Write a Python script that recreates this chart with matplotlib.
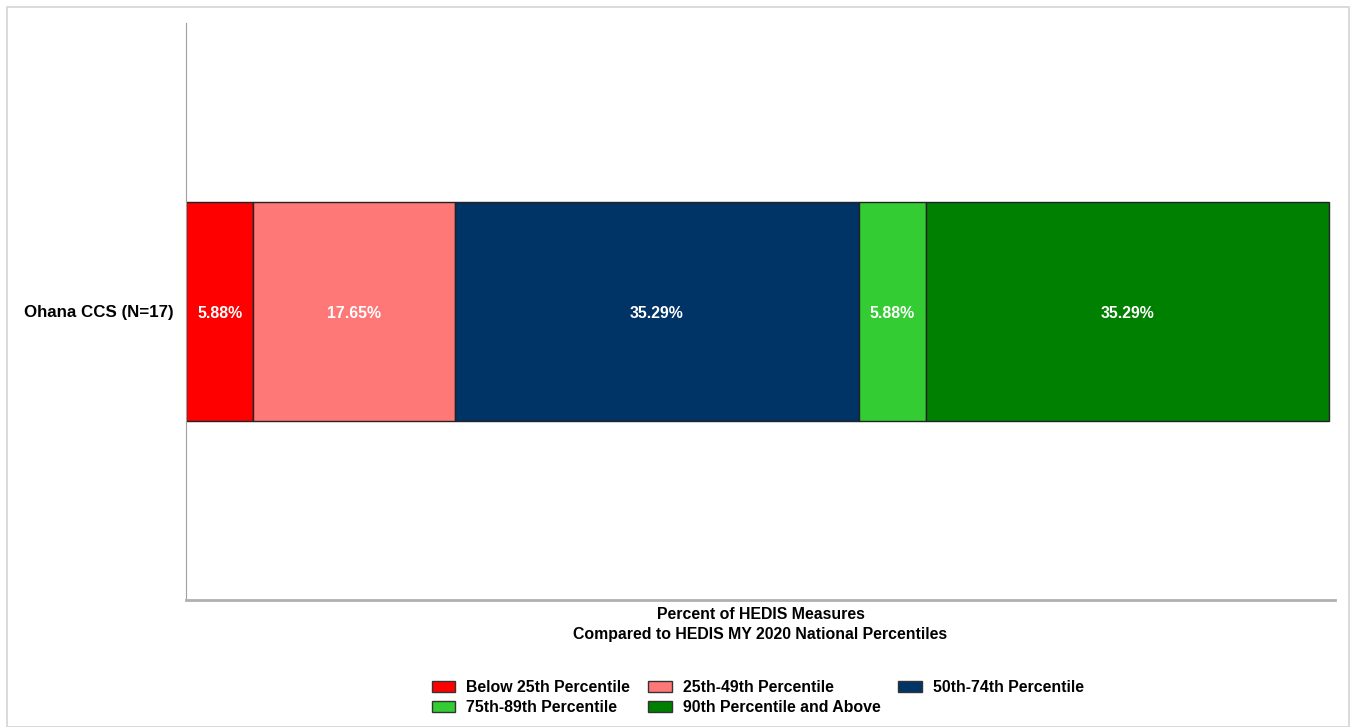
import matplotlib.pyplot as plt
from matplotlib.patches import Rectangle, Patch

plt.rcParams['font.family'] = ['Liberation Sans', 'DejaVu Sans']

group = 'Ohana CCS (N=17)'
categories = ['Below 25th Percentile', '25th-49th Percentile', '50th-74th Percentile',
              '75th-89th Percentile', '90th Percentile and Above']
values = [5.88, 17.65, 35.29, 5.88, 35.29]
colors = ['#FF0000', '#FF7878', '#003366', '#33CC33', '#008000']

fig = plt.figure(figsize=(13.51, 7.27), dpi=100)
ax = fig.add_axes([0.1377, 0.1747, 0.8505, 0.7937])

# light frame around the whole picture
fig.patches.append(Rectangle((7 / 1351, 0.0), 1342 / 1351, 720 / 727,
                             transform=fig.transFigure, fill=False,
                             edgecolor='#d4d4d4', linewidth=1.2))

left = 0
for cat, val, col in zip(categories, values, colors):
    ax.barh(0, val, left=left, height=0.378, color=col, edgecolor='#222222',
            linewidth=1.0, label=cat)
    ax.text(left + val / 2, -0.003, '{:.2f}%'.format(val), ha='center', va='center',
            color='white', fontsize=11.4, fontweight='bold')
    left += val

ax.set_xlim(0, 100.5)
ax.set_ylim(-0.5, 0.5)
ax.set_yticks([0])
ax.set_yticklabels([group], fontsize=12.2, fontweight='bold')
ax.set_xticks([])
ax.tick_params(axis='y', length=0, pad=9)

for s in ['top', 'right']:
    ax.spines[s].set_visible(False)
ax.spines['left'].set_color('#a0a0a0')
ax.spines['bottom'].set_color('#b0b0b0')
ax.spines['bottom'].set_linewidth(2)

ax.set_xlabel('Percent of HEDIS Measures\nCompared to HEDIS MY 2020 National Percentiles',
              fontsize=11.4, fontweight='bold', labelpad=5, linespacing=1.4)

# legend row-wise in 3 columns
order = [0, 3, 1, 4, 2]
handles = [Patch(facecolor=colors[i], edgecolor='#333333') for i in order]
labels = [categories[i] for i in order]
fig.legend(handles, labels, loc='lower center', bbox_to_anchor=(0.561, -0.003),
           ncol=3, frameon=False, prop={'weight': 'bold', 'size': 11.4},
           handlelength=1.5, handleheight=0.75, columnspacing=1.13,
           labelspacing=0.3, handletextpad=0.69)

fig.savefig('out.png', dpi=100)
